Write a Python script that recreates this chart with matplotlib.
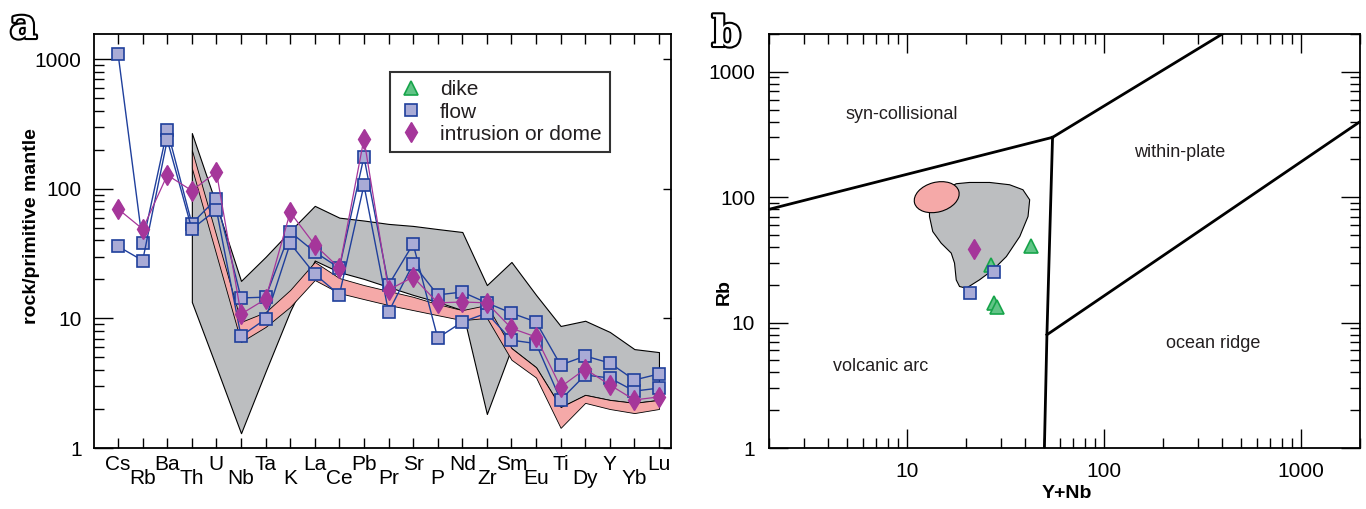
import numpy as np
import matplotlib
matplotlib.use("Agg")
import matplotlib.pyplot as plt
import matplotlib.ticker as ticker
import matplotlib.patheffects as pe
from matplotlib.patches import Ellipse
from matplotlib.lines import Line2D
from matplotlib.transforms import ScaledTranslation

plt.rcParams['font.family'] = ['Liberation Sans', 'DejaVu Sans']

# === DATA: panel a (spider diagram) ===
elements = ['Cs', 'Rb', 'Ba', 'Th', 'U', 'Nb', 'Ta', 'K', 'La', 'Ce', 'Pb', 'Pr',
            'Sr', 'P', 'Nd', 'Zr', 'Sm', 'Eu', 'Ti', 'Dy', 'Y', 'Yb', 'Lu']

flow_a = [1100, 38, 286, 54, 84, 14.4, 14.6, 46.5, 32.6, 24.5, 177, 18.1,
          37.6, 7.07, 9.4, 11, 6.8, 6.4, 2.35, 3.66, 3.47, 2.75, 2.9]
flow_b = [36, 28, 239, 49, 69, 7.3, 9.9, 38, 22, 15.2, 107, 11.2,
          26.4, 15.2, 16, 13.2, 11, 9.4, 4.37, 5.13, 4.53, 3.35, 3.73]
intrusion = [70, 49, 128, 97, 135, 10.8, 14.1, 66, 37, 24.5, 243, 16.6,
             20.9, 13.2, 13.4, 13.2, 8.4, 7.2, 2.96, 4.07, 3.07, 2.35, 2.48]

# reference fields, Th .. Lu
field_elements = elements[3:]
gray_upper = [270, 75, 19.5, 29.9, 47.4, 74, 60, 57, 53.7, 51.8, 49, 46.5,
              18.1, 27.3, 15.2, 8.75, 9.6, 7.87, 5.8, 5.5]
gray_lower = [13.4, 4.2, 1.3, 3.9, 11.4, 28, 22.8, 20.2, 17.5, 15.2, 13.4, 11.6,
              1.83, 5.9, 4.2, 2.07, 2.57, 2.35, 2.23, 2.35]
pink_upper = [200, 43.4, 9.4, 11.2, 16.6, 27.3, 20.5, 18.1, 16.3, 14.7, 12.9, 11.6,
              12.7, 5.9, 4.2, 2.07, 2.57, 2.35, 2.23, 2.35]
pink_lower = [145, 30.9, 6.6, 8.6, 12.3, 19.8, 15.7, 14.1, 12.7, 11.6, 10.6, 9.7,
              10.1, 4.8, 3.5, 1.43, 2.23, 2.0, 1.86, 2.0]

# === DATA: panel b (Rb vs Y+Nb) ===
dike_ynb = [43, 26.9, 27.7, 28.9]
dike_rb = [41, 28.9, 14.3, 13.4]
flow_ynb = [27.9, 20.9]
flow_rb = [25.1, 17.2]
intr_ynb = [21.9]
intr_rb = [38.5]

# boundaries (Pearce et al. 1984)
syn_vag_x, syn_vag_y = [2, 55], [80, 300]
syn_wpg_x, syn_wpg_y = [55, 400], [300, 2000]
vag_org_x, vag_org_y = [55, 51.5, 50], [300, 8, 1]
wpg_org_x, wpg_org_y = [51.5, 2000], [8, 400]

blob_x = [13.05, 13.56, 14.96, 16.83, 17.49, 17.84, 18.54, 20.06, 23.4, 27.4, 32.05,
          37.5, 41.3, 42.1, 38.9, 33.3, 26.4, 20.8, 17.84, 14.67, 13.05]
blob_y = [70.2, 53.2, 43.0, 35.8, 29.8, 21.9, 19.4, 18.8, 21.9, 26.3, 33.6,
          48.6, 70.2, 95.3, 114.6, 125.6, 131, 131, 128, 107.8, 84.3]

region_labels = ['syn-collisional', 'within-plate', 'volcanic arc', 'ocean ridge']
region_x = [9.46, 244, 7.41, 360]
region_y = [455, 226, 4.45, 6.76]

# === STYLE ===
blue = '#1f3f9c'
blue_face = '#a9abd6'
magenta = '#a5369a'
green_edge = '#17a44a'
green_face = '#62c487'
gray = '#bcbec0'
pink = '#f5a9a8'
txt = '#231f20'

fig = plt.figure(figsize=(13.66, 5.09), dpi=100)
ax1 = fig.add_axes([94 / 1366, 61 / 509, 577 / 1366, 414 / 509])
ax2 = fig.add_axes([769 / 1366, 61 / 509, 591 / 1366, 414 / 509])

# === Panel a ===
x = np.arange(len(elements))
xf = x[3:]
ax1.fill_between(xf, gray_lower, gray_upper, facecolor=gray, edgecolor='black', lw=0.8, zorder=1)
ax1.fill_between(xf, pink_lower, pink_upper, facecolor=pink, edgecolor='black', lw=0.6, zorder=2)

for s in (flow_a, flow_b):
    ax1.plot(x, s, '-', color=blue, lw=1.0, marker='s', ms=8, mfc=blue_face, mec=blue, mew=1.2, zorder=3)
ax1.plot(x, intrusion, '-', color=magenta, lw=0.9, marker='d', ms=10, mfc=magenta, mec=magenta, zorder=4)

ax1.set_yscale('log')
ax1.set_ylim(1, 1570)
ax1.set_xlim(-0.98, 22.49)
ax1.set_xticks(x[::2])
ax1.set_xticklabels(elements[::2])
ax1.set_xticks(x[1::2], minor=True)
ax1.set_xticklabels(elements[1::2], minor=True)
ax1.tick_params(axis='x', which='both', direction='in', length=7.2, width=1, top=True,
                labelsize=15, colors='black')
ax1.tick_params(axis='x', which='major', pad=5)
ax1.tick_params(axis='x', which='minor', pad=15)
ax1.yaxis.set_major_formatter(ticker.FuncFormatter(lambda v, _: f'{v:g}'))
ax1.yaxis.set_minor_formatter(ticker.NullFormatter())
ax1.tick_params(axis='y', which='major', direction='in', length=14, width=1, labelsize=15, pad=9, right=True)
ax1.tick_params(axis='y', which='minor', direction='in', length=7, width=1)
for tk in ax1.yaxis.get_major_ticks():
    tk.tick2line.set_markersize(6)
for sp in ax1.spines.values():
    sp.set_linewidth(1.3)
ax1.set_ylabel('rock/primitive mantle', fontsize=14, fontweight='bold')
ax1.yaxis.set_label_coords(-0.094, 0.536)

handles = [
    Line2D([], [], ls='none', marker='^', ms=10, mfc=green_face, mec=green_edge, mew=1.2),
    Line2D([], [], ls='none', marker='s', ms=8, mfc=blue_face, mec=blue, mew=1.2),
    Line2D([], [], ls='none', marker='d', ms=10, mfc=magenta, mec=magenta),
]
leg = ax1.legend(handles, ['dike', 'flow', 'intrusion or dome'], loc='upper left',
                 bbox_to_anchor=(0.513, 0.908), fontsize=15, frameon=True, fancybox=False,
                 edgecolor='black', labelspacing=0.15, handletextpad=0.8, borderpad=0.4,
                 handlelength=1.2, borderaxespad=0)
leg.get_frame().set_linewidth(1.5)
for t in leg.get_texts():
    t.set_color(txt)

# === Panel b ===
ax2.fill(blob_x, blob_y, facecolor=gray, edgecolor='black', lw=0.8, zorder=1)
ell = Ellipse((0, 0), 0.458, 0.297, angle=15, facecolor=pink, edgecolor='black', lw=0.8,
              transform=fig.dpi_scale_trans + ScaledTranslation(14.2, 100, ax2.transData), zorder=2)
ax2.add_patch(ell)

for bx, by in [(syn_vag_x, syn_vag_y), (syn_wpg_x, syn_wpg_y), (vag_org_x, vag_org_y), (wpg_org_x, wpg_org_y)]:
    ax2.plot(bx, by, '-', color='black', lw=2, zorder=3)

ax2.plot(intr_ynb, intr_rb, ls='none', marker='d', ms=10, mfc=magenta, mec=magenta, zorder=4)
ax2.plot(dike_ynb, dike_rb, ls='none', marker='^', ms=10, mfc=green_face, mec=green_edge, mew=1.2, zorder=4)
ax2.plot(flow_ynb, flow_rb, ls='none', marker='s', ms=8, mfc=blue_face, mec=blue, mew=1.2, zorder=4)

for lab, lx, ly in zip(region_labels, region_x, region_y):
    ax2.text(lx, ly, lab, fontsize=13, color=txt, ha='center', va='center')

ax2.set_xscale('log')
ax2.set_yscale('log')
ax2.set_xlim(2, 2000)
ax2.set_ylim(1, 2000)
fmt = ticker.FuncFormatter(lambda v, _: f'{v:g}')
ax2.xaxis.set_major_formatter(fmt)
ax2.yaxis.set_major_formatter(fmt)
ax2.xaxis.set_minor_formatter(ticker.NullFormatter())
ax2.yaxis.set_minor_formatter(ticker.NullFormatter())
ax2.tick_params(which='major', direction='in', length=14, width=1, labelsize=15,
                top=True, right=True, pad=10)
ax2.tick_params(which='minor', direction='in', length=7, width=1, top=True, right=True)
for sp in ax2.spines.values():
    sp.set_linewidth(1.3)
ax2.set_xlabel('Y+Nb', fontsize=14, fontweight='bold')
ax2.xaxis.set_label_coords(0.504, -0.089)
ax2.set_ylabel('Rb', fontsize=14, fontweight='bold')
ax2.yaxis.set_label_coords(-0.061, 0.377)

# panel letters
for letter, fx, fy in [('a', 10 / 1366, 1 - 38 / 509), ('b', 712 / 1366, 1 - 46 / 509)]:
    fig.text(fx, fy, letter, fontsize=30, fontweight='bold', family='DejaVu Serif',
             color='white', va='baseline', ha='left',
             path_effects=[pe.withStroke(linewidth=3, foreground='black')])

fig.savefig('out.png', dpi=100)
